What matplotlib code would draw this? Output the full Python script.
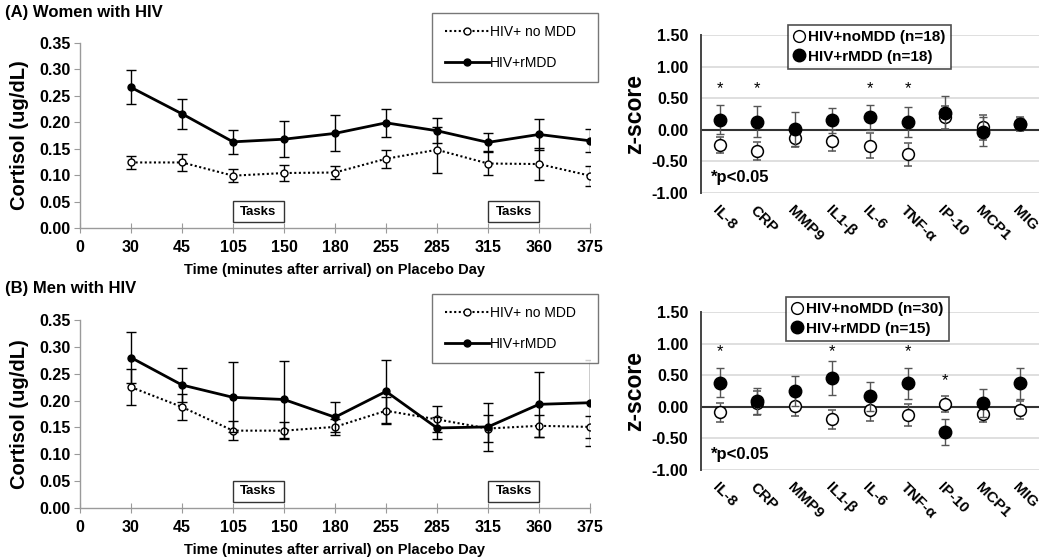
import matplotlib
matplotlib.use('Agg')
import matplotlib.pyplot as plt
from matplotlib.lines import Line2D
from matplotlib.patches import Rectangle

plt.rcParams['font.family'] = ['Liberation Sans', 'DejaVu Sans']

# ---------------- data ----------------
time_labels = ['0', '30', '45', '105', '150', '180', '255', '285', '315', '360', '375']
task_windows = [('105', '150'), ('315', '360')]

women_nomdd = [0.124, 0.124, 0.099, 0.104, 0.105, 0.131, 0.148, 0.122, 0.121, 0.099]
women_nomdd_err = [0.013, 0.016, 0.012, 0.015, 0.012, 0.017, 0.044, 0.021, 0.031, 0.019]
women_rmdd = [0.266, 0.216, 0.163, 0.168, 0.179, 0.199, 0.184, 0.162, 0.177, 0.165]
women_rmdd_err = [0.032, 0.029, 0.023, 0.034, 0.034, 0.027, 0.024, 0.017, 0.029, 0.022]

men_nomdd = [0.225, 0.188, 0.144, 0.144, 0.151, 0.181, 0.165, 0.148, 0.153, 0.151]
men_nomdd_err = [0.033, 0.025, 0.018, 0.016, 0.015, 0.025, 0.024, 0.025, 0.021, 0.02]
men_rmdd = [0.280, 0.229, 0.206, 0.202, 0.169, 0.217, 0.149, 0.151, 0.193, 0.196]
men_rmdd_err = [0.048, 0.031, 0.065, 0.071, 0.028, 0.058, 0.02, 0.045, 0.061, 0.08]

cytokines = ['IL-8', 'CRP', 'MMP9', 'IL1-β', 'IL-6', 'TNF-α', 'IP-10', 'MCP1', 'MIG']

women_z_nomdd = [-0.24, -0.33, -0.13, -0.17, -0.25, -0.39, 0.20, 0.04, 0.09]
women_z_nomdd_err = [0.12, 0.14, 0.15, 0.17, 0.20, 0.18, 0.18, 0.20, 0.11]
women_z_rmdd = [0.16, 0.13, 0.01, 0.15, 0.20, 0.12, 0.27, -0.03, 0.09]
women_z_rmdd_err = [0.23, 0.24, 0.27, 0.20, 0.20, 0.24, 0.26, 0.23, 0.10]
women_stars = {'IL-8': 0.65, 'CRP': 0.65, 'IL-6': 0.65, 'TNF-α': 0.65}

men_z_nomdd = [-0.09, 0.06, 0.01, -0.20, -0.05, -0.13, 0.04, -0.11, -0.05]
men_z_nomdd_err = [0.15, 0.19, 0.16, 0.15, 0.17, 0.17, 0.13, 0.13, 0.14]
men_z_rmdd = [0.38, 0.09, 0.25, 0.46, 0.17, 0.37, -0.40, 0.06, 0.37]
men_z_rmdd_err = [0.23, 0.20, 0.23, 0.27, 0.23, 0.25, 0.21, 0.22, 0.24]
men_stars = {'IL-8': 0.88, 'IL1-β': 0.88, 'TNF-α': 0.88, 'IP-10': 0.42}

fig = plt.figure(figsize=(10.5, 5.59), dpi=100)
W, H = 1050, 559


def fbox(x0, y0, x1, y1):
    return [x0 / W, 1 - y1 / H, (x1 - x0) / W, (y1 - y0) / H]


def cortisol_panel(rect, title, title_y, nomdd, nomdd_err, rmdd, rmdd_err, leg_rect):
    ax = fig.add_axes(fbox(*rect))
    xs = list(range(1, len(time_labels)))
    ax.errorbar(xs, nomdd, yerr=nomdd_err, color='black', ls=(0, (1, 1.2)), lw=1.5,
                marker='o', ms=5, mfc='white', mec='black', mew=1.0,
                ecolor='black', elinewidth=1.0, capsize=3.5, capthick=1.0, zorder=3)
    ax.errorbar(xs, rmdd, yerr=rmdd_err, color='black', ls='-', lw=2.0,
                marker='o', ms=5, mfc='black', mec='black',
                ecolor='black', elinewidth=1.0, capsize=3.5, capthick=1.0, zorder=4)
    ax.set_xlim(0, len(time_labels) - 1)
    ax.set_ylim(0, 0.35)
    ax.set_xticks(range(len(time_labels)))
    ax.set_xticklabels(time_labels, fontweight='bold', fontsize=11.5)
    ax.set_yticks([0, 0.05, 0.10, 0.15, 0.20, 0.25, 0.30, 0.35])
    ax.set_yticklabels(['%.2f' % v for v in ax.get_yticks()], fontweight='bold', fontsize=11.5)
    for s in ['top', 'right']:
        ax.spines[s].set_visible(False)
    for s in ['left', 'bottom']:
        ax.spines[s].set_color('#9a9a9a')
        ax.spines[s].set_linewidth(1.0)
    ax.tick_params(axis='y', direction='out', length=4, color='#9a9a9a', pad=3)
    ax.tick_params(axis='x', direction='inout', length=7, color='#9a9a9a', pad=5)
    ax.set_ylabel('Cortisol (ug/dL)', fontweight='bold', fontsize=14.5, labelpad=7)
    ax.set_xlabel('Time (minutes after arrival) on Placebo Day', fontweight='bold',
                  fontsize=10.5, labelpad=6)
    for a, b in task_windows:
        i0, i1 = time_labels.index(a), time_labels.index(b)
        ax.add_patch(Rectangle((i0, 0.011), i1 - i0, 0.040, fill=False, ec='#333333', lw=1.0))
        ax.text((i0 + i1) / 2, 0.031, 'Tasks', ha='center', va='center',
                fontweight='bold', fontsize=9.5)
    fig.text(5 / W, 1 - title_y / H, title, fontweight='bold', fontsize=12,
             ha='left', va='center')
    handles = [Line2D([], [], color='black', ls=(0, (1, 1.2)), lw=1.5, marker='o', ms=5,
                      mfc='white', mec='black'),
               Line2D([], [], color='black', ls='-', lw=2.0, marker='o', ms=5, mfc='black')]
    x0, y0, x1, y1 = leg_rect
    leg = ax.legend(handles, ['HIV+ no MDD', 'HIV+rMDD'], loc='center',
                    bbox_to_anchor=fbox(x0, y0, x1, y1), bbox_transform=fig.transFigure,
                    mode='expand', frameon=True, fancybox=False, edgecolor='#555555',
                    fontsize=10, labelspacing=1.2, handlelength=3.2, handletextpad=0.1,
                    borderpad=0.9, borderaxespad=0)
    leg.get_frame().set_linewidth(1.0)
    return ax


def z_panel(rect, z_nomdd, z_nomdd_err, z_rmdd, z_rmdd_err, stars, n_labels, leg_rect):
    ax = fig.add_axes(fbox(*rect))
    xs = list(range(len(cytokines)))
    ax.set_xlim(-0.5, len(cytokines) - 0.5)
    ax.set_ylim(-1.0, 1.5)
    ticks = [-1.0, -0.5, 0.0, 0.5, 1.0, 1.5]
    ax.set_yticks(ticks)
    ax.set_yticklabels(['%.2f' % v for v in ticks], fontweight='bold', fontsize=11.5)
    for t in ticks:
        if t == 0:
            ax.axhline(t, color='#333333', lw=1.5, zorder=1)
        else:
            ax.axhline(t, color='#d9d9d9', lw=1.2, zorder=0)
    ax.errorbar(xs, z_nomdd, yerr=z_nomdd_err, ls='none', marker='o', ms=8.5,
                mfc='white', mec='black', mew=1.1, ecolor='#555555', elinewidth=1.0,
                capsize=3, capthick=1.0, zorder=3)
    ax.errorbar(xs, z_rmdd, yerr=z_rmdd_err, ls='none', marker='o', ms=9,
                mfc='black', mec='black', ecolor='#555555', elinewidth=1.0,
                capsize=3, capthick=1.0, zorder=4)
    for name, yv in stars.items():
        ax.text(cytokines.index(name), yv, '*', ha='center', va='center', fontsize=12)
    ax.text(0.03, 0.10, '*p<0.05', transform=ax.transAxes, fontweight='bold',
            fontsize=12, ha='left', va='center')
    ax.set_xticks(xs)
    ax.set_xticklabels(cytokines, rotation=-45, ha='left', va='top',
                       rotation_mode='anchor', fontweight='bold', fontsize=11)
    ax.tick_params(axis='x', length=0, pad=7)
    ax.tick_params(axis='y', length=0, pad=9)
    for s in ['top', 'right', 'bottom']:
        ax.spines[s].set_visible(False)
    ax.spines['left'].set_color('#444444')
    ax.spines['left'].set_linewidth(1.4)
    ax.set_ylabel('z-score', fontweight='bold', fontsize=16.5, labelpad=4)
    handles = [Line2D([], [], ls='none', marker='o', ms=8.5, mfc='white', mec='black'),
               Line2D([], [], ls='none', marker='o', ms=9, mfc='black', mec='black')]
    x0, y0, x1, y1 = leg_rect
    leg = ax.legend(handles, n_labels, loc='center',
                    bbox_to_anchor=fbox(x0, y0, x1, y1), bbox_transform=fig.transFigure,
                    frameon=True, fancybox=False, edgecolor='#222222',
                    prop={'weight': 'bold', 'size': 11}, labelspacing=0.35,
                    handlelength=0.8, handletextpad=0.2, borderpad=0.35, borderaxespad=0)
    leg.get_frame().set_linewidth(1.2)
    leg.set_zorder(10)
    return ax


cortisol_panel((80, 43, 590, 228), '(A) Women with HIV', 12,
               women_nomdd, women_nomdd_err, women_rmdd, women_rmdd_err,
               (432, 15, 598, 80))
cortisol_panel((80, 320, 590, 508), '(B) Men with HIV', 289,
               men_nomdd, men_nomdd_err, men_rmdd, men_rmdd_err,
               (432, 298, 598, 359))

z_panel((701, 35, 1039, 193), women_z_nomdd, women_z_nomdd_err, women_z_rmdd,
        women_z_rmdd_err, women_stars, ['HIV+noMDD (n=18)', 'HIV+rMDD (n=18)'],
        (794, 27, 945, 67))
z_panel((701, 312, 1039, 470), men_z_nomdd, men_z_nomdd_err, men_z_rmdd,
        men_z_rmdd_err, men_stars, ['HIV+noMDD (n=30)', 'HIV+rMDD (n=15)'],
        (792, 298, 943, 340))

fig.savefig('out.png', dpi=100)
